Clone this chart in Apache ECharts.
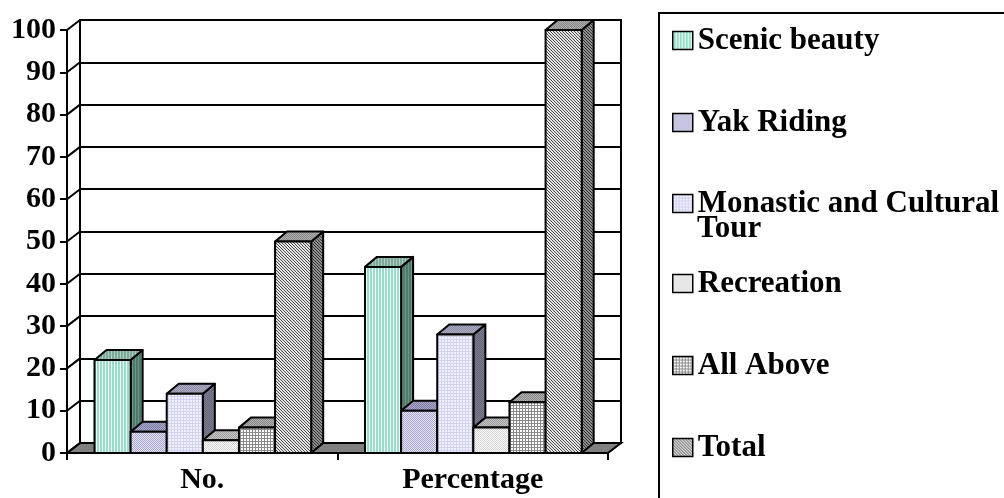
<!DOCTYPE html>
<html>
<head>
<meta charset="utf-8">
<script src="https://cdn.jsdelivr.net/npm/echarts@6/dist/echarts.min.js"></script>
<style>
html,body{margin:0;padding:0;background:#fff;}
#chart{width:1004px;height:498px;}
</style>
</head>
<body>
<div id="chart"></div>
<script>
const categories = ['No.', 'Percentage'];
const seriesNames = ['Scenic beauty', 'Yak Riding', 'Monastic and Cultural Tour', 'Recreation', 'All Above', 'Total'];
const noValues = [22, 5, 14, 3, 6, 50];
const pctValues = [44, 10, 28, 6, 12, 100];
const yTicks = [0, 10, 20, 30, 40, 50, 60, 70, 80, 90, 100];

function pattern(size, bg, fg, kind) {
  const c = document.createElement('canvas');
  c.width = size; c.height = size;
  const g = c.getContext('2d');
  g.fillStyle = bg; g.fillRect(0, 0, size, size);
  g.fillStyle = fg;
  if (kind === 'v') { g.fillRect(0, 0, 1, size); }
  else if (kind === 'dot') { g.fillRect(0, 0, 1, 1); g.fillRect(Math.floor(size / 2), Math.floor(size / 2), 1, 1); }
  else if (kind === 'grid') { g.fillRect(0, 0, size, 1); g.fillRect(0, 0, 1, size); }
  else if (kind === 'diag') { for (let k = 0; k < size; k++) g.fillRect(k, k, 1, 1); }
  return { image: c, repeat: 'repeat' };
}

const styles = [
  { front: pattern(3, '#98dcca', '#f2fbf8', 'v'), top: pattern(3, '#7ea898', '#a9cfc2', 'v'), side: pattern(3, '#4f7a6b', '#6e978a', 'v') },
  { front: pattern(2, '#e2e2f2', '#a8a8d0', 'dot'), top: pattern(2, '#a6a6c8', '#8080a8', 'dot'), side: pattern(2, '#7a7a98', '#5e5e7e', 'dot') },
  { front: pattern(3, '#f2f2ff', '#d2d2ee', 'grid'), top: pattern(2, '#a9a9c0', '#8e8ea8', 'dot'), side: pattern(2, '#7c7c90', '#66667a', 'dot') },
  { front: pattern(2, '#fbfbfb', '#d4d4d4', 'dot'), top: pattern(2, '#c4c4c4', '#a0a0a0', 'dot'), side: pattern(2, '#a0a0a0', '#808080', 'dot') },
  { front: pattern(3, '#ffffff', '#8a8a8a', 'grid'), top: pattern(2, '#b0b0b0', '#8a8a8a', 'dot'), side: pattern(3, '#a0a0a0', '#707070', 'grid') },
  { front: pattern(3, '#e2e2e2', '#505050', 'diag'), top: pattern(2, '#ababab', '#8a8a8a', 'dot'), side: pattern(3, '#8a8a8a', '#3c3c3c', 'diag') }
];

const DX = 12, DY = -10;
const OFFSET = 0.1017, WIDTH = 0.1335;

function makeBar(i) {
  return function (params, api) {
    const c = api.value(0), v = api.value(1);
    const base = api.coord([c, 0]);
    const topPt = api.coord([c, v]);
    const bw = api.size([1, 0])[0];
    const w = bw * WIDTH;
    const x0 = base[0] - bw / 2 + bw * OFFSET + i * w;
    const y0 = base[1], y1 = topPt[1];
    const st = styles[i];
    const stroke = { stroke: '#000', lineWidth: 2, lineJoin: 'round' };
    return {
      type: 'group',
      children: [
        { type: 'polygon', shape: { points: [[x0 + w, y1], [x0 + w + DX, y1 + DY], [x0 + w + DX, y0 + DY], [x0 + w, y0]] },
          style: Object.assign({ fill: st.side }, stroke) },
        { type: 'polygon', shape: { points: [[x0, y1], [x0 + DX, y1 + DY], [x0 + w + DX, y1 + DY], [x0 + w, y1]] },
          style: Object.assign({ fill: st.top }, stroke) },
        { type: 'rect', shape: { x: x0, y: y1, width: w, height: y0 - y1 },
          style: Object.assign({ fill: st.front }, stroke) }
      ]
    };
  };
}

function frameItem(params, api) {
  const v = api.value(1);
  const cs = params.coordSys;
  const y = api.coord([0, v])[1];
  const children = [];
  if (v === 0) {
    children.push({ type: 'polygon', shape: { points: [[cs.x, y], [cs.x + DX + 1, y + DY], [cs.x + cs.width + DX + 1, y + DY], [cs.x + cs.width, y]] },
      style: { fill: '#808080', stroke: '#000', lineWidth: 2 } });
  }
  children.push({ type: 'line', shape: { x1: cs.x, y1: y, x2: cs.x + DX + 1, y2: y + DY }, style: { stroke: '#000', lineWidth: 2 } });
  return { type: 'group', children: children };
}

const font = 'Liberation Serif';
const legendTops = [25, 107, 188, 268, 350, 432];

const series = [{
  type: 'custom', name: '_frame', xAxisIndex: 0, yAxisIndex: 0, z: 1,
  renderItem: frameItem, data: yTicks.map(t => [0, t]), silent: true
}];
seriesNames.forEach((n, i) => {
  series.push({
    type: 'custom', name: n, xAxisIndex: 0, yAxisIndex: 0, z: 2 + i,
    renderItem: makeBar(i),
    itemStyle: { color: styles[i].front, borderColor: '#000', borderWidth: 1.5 },
    data: [[0, noValues[i]], [1, pctValues[i]]],
    encode: { x: 0, y: 1 }
  });
});

const legends = seriesNames.map((n, i) => {
  const lg = {
    data: [{ name: n, itemStyle: { color: styles[i].front, borderColor: '#000', borderWidth: 1.5 } }],
    left: 672, top: legendTops[i], orient: 'vertical', padding: 0,
    itemWidth: 20, itemHeight: 18, icon: 'rect',
    selectedMode: false,
    textStyle: { fontFamily: font, fontWeight: 'bold', fontSize: 31, color: '#000', lineHeight: 30 }
  };
  if (i === 2) {
    lg.formatter = () => 'Monastic and Cultural';
  }
  return lg;
});

const chart = echarts.init(document.getElementById('chart'), null, { renderer: 'canvas' });
chart.setOption({
  animation: false,
  backgroundColor: '#fff',
  grid: [
    { left: 67, top: 30, width: 541, height: 423 },
    { left: 80, top: 20, width: 541, height: 423, show: true, borderColor: '#000', borderWidth: 2, backgroundColor: 'transparent' }
  ],
  xAxis: [
    { type: 'category', gridIndex: 0, data: categories, boundaryGap: true,
      axisLine: { lineStyle: { color: '#000', width: 2 } },
      axisTick: { show: true, length: 7, lineStyle: { color: '#000', width: 2 } },
      axisLabel: { fontFamily: font, fontWeight: 'bold', fontSize: 30, color: '#000', margin: 12 } },
    { type: 'category', gridIndex: 1, data: categories, show: false }
  ],
  yAxis: [
    { type: 'value', gridIndex: 0, min: 0, max: 100, interval: 10,
      axisLine: { show: true, lineStyle: { color: '#000', width: 2 } },
      axisTick: { show: true, length: 7, lineStyle: { color: '#000', width: 2 } },
      splitLine: { show: false },
      axisLabel: { fontFamily: font, fontWeight: 'bold', fontSize: 30, color: '#000', margin: 11 } },
    { type: 'value', gridIndex: 1, min: 0, max: 100, interval: 10,
      axisLine: { show: false }, axisTick: { show: false }, axisLabel: { show: false },
      splitLine: { show: true, lineStyle: { color: '#000', width: 2 } } }
  ],
  legend: legends,
  graphic: [
    { type: 'rect', shape: { x: 659, y: 13, width: 360, height: 500 }, style: { fill: 'none', stroke: '#000', lineWidth: 2 }, z: 0 },
    { type: 'text', x: 697, y: 229, style: { text: 'Tour', fontFamily: font, fontWeight: 'bold', fontSize: 31, fill: '#000', verticalAlign: 'middle', align: 'left' } }
  ],
  series: series
});
</script>
</body>
</html>
